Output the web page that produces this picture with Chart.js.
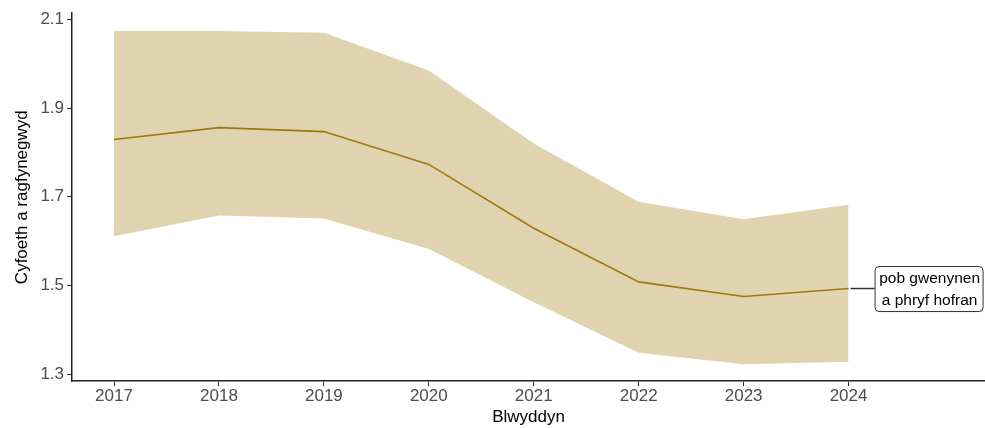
<!DOCTYPE html>
<html>
<head>
<meta charset="utf-8">
<script src="https://cdn.jsdelivr.net/npm/chart.js@4"></script>
<style>
  html, body { margin: 0; padding: 0; background: #fff; }
  #wrap { width: 985px; height: 428px; }
</style>
</head>
<body>
<div id="wrap"><canvas id="chart" width="985" height="428"></canvas></div>
<script>
// data
const years = [2017, 2018, 2019, 2020, 2021, 2022, 2023, 2024];
const meanValues = [1.829, 1.856, 1.847, 1.773, 1.629, 1.508, 1.475, 1.493];
const upperValues = [2.074, 2.074, 2.070, 1.985, 1.820, 1.689, 1.649, 1.682];
const lowerValues = [1.611, 1.658, 1.651, 1.582, 1.462, 1.348, 1.322, 1.328];
const yTicks = [1.3, 1.5, 1.7, 1.9, 2.1];
const seriesLabel = ['pob gwenynen', 'a phryf hofran'];

const toPoints = (vals) => years.map((y, i) => ({ x: y, y: vals[i] }));
const FONT = '"Liberation Sans", Arial, sans-serif';

// label box at the end of the line
const endLabel = {
    id: 'endLabel',
    afterDatasetsDraw(chart) {
        const c = chart.ctx;
        const xs = chart.scales.x, ys = chart.scales.y;
        const last = years.length - 1;
        const px = xs.getPixelForValue(years[last]);
        const py = ys.getPixelForValue(meanValues[last]);
        const boxL = px + 26, boxW = 108, boxH = 45;
        c.save();
        c.strokeStyle = '#333';
        c.lineWidth = 1.5;
        c.beginPath();
        c.moveTo(px + 2, py);
        c.lineTo(boxL, py);
        c.stroke();
        c.fillStyle = '#fff';
        c.lineWidth = 1;
        c.beginPath();
        c.roundRect(boxL + 0.5, py - boxH / 2 + 0.5, boxW, boxH, 4);
        c.fill();
        c.stroke();
        c.fillStyle = '#000';
        c.font = '15.5px ' + FONT;
        c.textAlign = 'center';
        c.textBaseline = 'middle';
        c.fillText(seriesLabel[0], boxL + boxW / 2 + 1, py - 10);
        c.fillText(seriesLabel[1], boxL + boxW / 2 + 1, py + 12);
        c.restore();
    }
};

const ctx = document.getElementById('chart').getContext('2d');
const chart = new Chart(ctx, {
    type: 'line',
    data: {
        datasets: [{
            data: toPoints(upperValues),
            borderWidth: 0,
            pointRadius: 0,
            backgroundColor: 'rgb(224, 212, 176)',
            fill: '+1'
        }, {
            data: toPoints(lowerValues),
            borderWidth: 0,
            pointRadius: 0,
            fill: false
        }, {
            data: toPoints(meanValues),
            borderColor: 'rgb(158, 120, 8)',
            borderWidth: 1.6,
            pointRadius: 0,
            fill: false
        }]
    },
    options: {
        responsive: false,
        animation: false,
        layout: { padding: { top: 7, right: 0, left: 12, bottom: 0 } },
        plugins: {
            legend: { display: false },
            tooltip: { enabled: false },
            filler: { drawTime: 'beforeDatasetsDraw' }
        },
        scales: {
            x: {
                type: 'linear',
                min: 2016.6,
                max: 2025.3,
                afterBuildTicks: (s) => { s.ticks = years.map(v => ({ value: v })); },
                ticks: {
                    color: '#4d4d4d',
                    font: { family: FONT, size: 17 },
                    padding: 0,
                    maxRotation: 0,
                    callback: (v) => String(v)
                },
                grid: { drawOnChartArea: false, tickLength: 5, color: '#333', tickWidth: 1 },
                border: { color: '#222', width: 1.5 },
                title: {
                    display: true,
                    text: 'Blwyddyn',
                    color: '#000',
                    font: { family: FONT, size: 17 },
                    padding: { top: 1, bottom: 0 }
                }
            },
            y: {
                min: 1.284,
                max: 2.114,
                afterBuildTicks: (s) => { s.ticks = yTicks.map(v => ({ value: v })); },
                ticks: {
                    color: '#4d4d4d',
                    font: { family: FONT, size: 17 },
                    padding: 3,
                    callback: (v) => v.toFixed(1)
                },
                grid: { drawOnChartArea: false, tickLength: 5, color: '#333', tickWidth: 1 },
                border: { color: '#222', width: 1.5 },
                title: {
                    display: true,
                    text: 'Cyfoeth a ragfynegwyd',
                    color: '#000',
                    font: { family: FONT, size: 17 },
                    padding: { top: 0, bottom: 5 }
                }
            }
        }
    },
    plugins: [endLabel]
});
</script>
</body>
</html>
